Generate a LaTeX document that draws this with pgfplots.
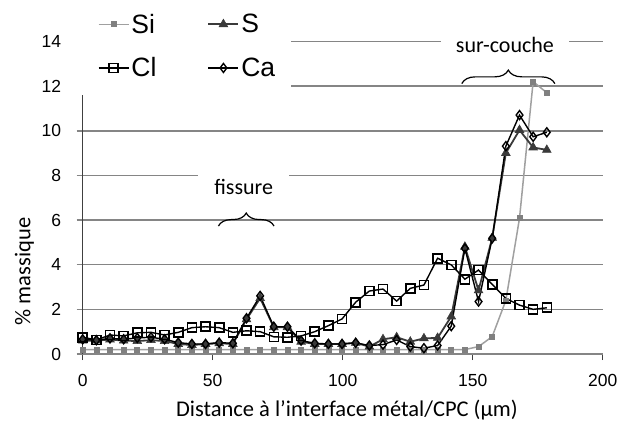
\documentclass[border=0pt]{standalone}
\usepackage{fontspec}
\setmainfont{Liberation Sans}
\newfontfamily\carlito{Carlito}
\usepackage{pgfplots}
\usepackage{pgfplotstable}
\pgfplotsset{compat=1.18}
\usetikzlibrary{decorations.pathreplacing}
\definecolor{gridgray}{HTML}{858585}
\definecolor{sigray}{HTML}{A0A0A0}
\definecolor{simark}{HTML}{808080}
\definecolor{sdark}{HTML}{3A3A3A}
\definecolor{yaxis}{HTML}{404040}

\pgfplotstableread{
x Si S Cl Ca
0 0.2 0.60 0.75 0.66
5.25 0.2 0.60 0.63 0.62
10.5 0.2 0.65 0.85 0.70
15.75 0.2 0.60 0.81 0.66
21 0.2 0.58 0.95 0.72
26.25 0.2 0.62 0.97 0.75
31.5 0.2 0.58 0.85 0.66
36.75 0.2 0.45 0.97 0.51
42 0.2 0.40 1.18 0.45
47.25 0.2 0.45 1.22 0.45
52.5 0.2 0.48 1.18 0.51
57.75 0.2 0.45 0.97 0.48
63 0.2 1.55 1.04 1.60
68.25 0.2 2.50 1.00 2.60
73.5 0.2 1.20 0.77 1.22
78.75 0.2 1.20 0.75 1.22
84 0.2 0.55 0.81 0.60
89.25 0.2 0.45 1.00 0.48
94.5 0.2 0.45 1.27 0.45
99.75 0.2 0.45 1.57 0.45
105 0.2 0.50 2.32 0.50
110.25 0.2 0.33 2.82 0.38
115.5 0.2 0.66 2.91 0.42
120.75 0.2 0.75 2.37 0.63
126 0.2 0.55 2.94 0.33
131.25 0.2 0.70 3.09 0.26
136.5 0.2 0.72 4.29 0.38
141.75 0.2 1.68 3.99 1.25
147 0.2 4.80 3.35 4.73
152.25 0.33 2.85 3.76 2.35
157.5 0.78 5.20 3.12 5.18
162.75 2.4 9.00 2.49 9.31
168 6.08 10.03 2.19 10.70
173.25 12.2 9.25 2.00 9.73
178.5 11.7 9.14 2.07 9.93
}\datatable

\begin{document}
\begin{tikzpicture}[x=1pt,y=1pt]
\path[use as bounding box] (-82.7,-67) rectangle (535.3,354);
\begin{axis}[
  at={(0,0)}, anchor=south west,
  scale only axis, width=520pt, height=312.6pt,
  xmin=0, xmax=200, ymin=0, ymax=14,
  xtick={0,50,...,200}, ytick={0,2,...,14},
  axis lines=left, axis line style={-},
  x axis line style={gridgray, line width=1.6pt},
  y axis line style={yaxis, line width=0.8pt},
  ymajorgrids, grid style={gridgray, line width=1.6pt},
  tick align=outside, major tick length=6pt,
  xtick style={yaxis, line width=0.8pt},
  ytick style={gridgray, line width=1.6pt},
  tick label style={font=\fontsize{17.5}{21}\selectfont},
  xticklabel style={yshift=-11pt},
  yticklabel style={xshift=-12pt},
  /pgf/number format/assume math mode=true,
  clip=false,
  xlabel={Distance à l’interface métal/CPC (µm)},
  ylabel={\% massique},
  xlabel style={at={(axis description cs:0.508,-0.179)}, anchor=center, font=\carlito\fontsize{22.5}{27}\selectfont},
  ylabel style={at={(axis description cs:-0.112,0.264)}, anchor=center, font=\carlito\fontsize{22.5}{27}\selectfont},
  legend columns=2,
  legend style={at={(axis description cs:0.029,1.095)}, anchor=north west, draw=none, fill=none,
    font=\fontsize{26.5}{30}\selectfont, row sep=19pt, inner sep=0pt},
  legend cell align=left,
  /tikz/every even column/.append style={column sep=49pt},
  legend image code/.code={\draw[mark repeat=2,mark phase=2] plot coordinates {(0pt,0pt) (15pt,0pt) (30pt,0pt)};},
]
\fill[white] (axis cs:-2.6,11.6) rectangle (axis cs:80,16.5);
\draw[decorate, decoration={brace, amplitude=13pt}, line width=1.2pt] (axis cs:52.2,5.73) -- (axis cs:73.6,5.73);
\draw[decorate, decoration={brace, amplitude=13.5pt}, line width=1.2pt] (axis cs:145.8,12.11) -- (axis cs:181.6,12.11);
\node[fill=white, inner xsep=16pt, inner ysep=6pt, font=\carlito\fontsize{22}{26}\selectfont] at (axis cs:61.9,7.49) {fissure};
\node[fill=white, inner xsep=15pt, inner ysep=6pt, font=\carlito\fontsize{22}{26}\selectfont] at (axis cs:162.4,13.84) {sur-couche};

\addplot[sigray, line width=1.5pt, mark=square*, mark size=2.5pt, mark options={fill=simark, draw=simark, line width=0.6pt}] table[x=x, y=Si] {\datatable};
\addlegendentry{Si}
\addplot[sdark, line width=1.8pt, mark=triangle*, mark size=5pt, mark options={fill=sdark, draw=sdark, line width=0.6pt}] table[x=x, y=S] {\datatable};
\addlegendentry{S}
\addplot[black, line width=1.4pt, mark=square, mark size=4.5pt, mark options={fill=white, draw=black, line width=1.6pt}] table[x=x, y=Cl] {\datatable};
\addlegendentry{Cl}
\addplot[black, line width=1.4pt, mark=diamond, mark size=4.5pt, mark options={fill=white, draw=black, line width=1.4pt}] table[x=x, y=Ca] {\datatable};
\addlegendentry{Ca}
\end{axis}
\end{tikzpicture}
\end{document}
